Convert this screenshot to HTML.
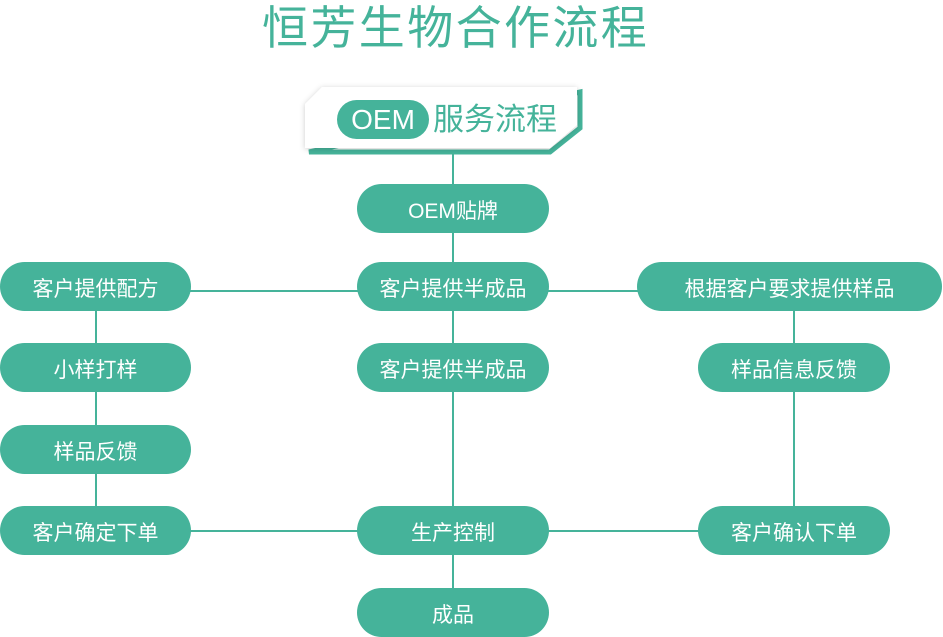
<!DOCTYPE html>
<html><head><meta charset="utf-8"><style>
body{margin:0;width:943px;height:637px;background:#fff;position:relative;overflow:hidden;font-family:"Liberation Sans","Noto Sans CJK SC",sans-serif}
.n{position:absolute;height:49px;border-radius:25px;background:#45b39a;color:#fff;font-size:21px;display:flex;align-items:center;justify-content:center;padding-top:2px;box-sizing:border-box}
.l{position:absolute;background:#45b39a}
</style></head><body>
<div style="position:absolute;left:262px;top:-8px;font-size:46px;letter-spacing:2.4px;color:#45b39a;white-space:nowrap">恒芳生物合作流程</div>
<div class="l" style="left:452px;top:150px;width:2px;height:440px"></div>
<div class="l" style="left:95px;top:300px;width:2px;height:210px"></div>
<div class="l" style="left:793px;top:300px;width:2px;height:210px"></div>
<div class="l" style="left:185px;top:290px;width:460px;height:2px"></div>
<div class="l" style="left:185px;top:530px;width:520px;height:2px"></div>
<svg style="position:absolute;left:0;top:0" width="943" height="637">
<defs><filter id="s" x="-10%" y="-30%" width="120%" height="160%"><feDropShadow dx="0" dy="1" stdDeviation="3" flood-color="#000" flood-opacity="0.2"/></filter></defs>
<polygon points="309,152 550,152 580,128 580,92" fill="none" stroke="#45b39a" stroke-width="5"/>
<polygon points="322,87 577,87 577,125 550,148 305,148 305,104" fill="#fff" filter="url(#s)"/>
<rect x="337" y="100" width="92" height="39" rx="19.5" fill="#45b39a"/>
<text x="383" y="129" font-size="28" fill="#fff" text-anchor="middle" font-family="Liberation Sans,sans-serif">OEM</text>
<text x="433" y="130" font-size="31" fill="#45b39a" font-family="Noto Sans CJK SC,sans-serif">服务流程</text>
</svg>
<div class="n" style="left:357px;top:184px;width:192px">OEM贴牌</div>
<div class="n" style="left:0;top:262px;width:191px">客户提供配方</div>
<div class="n" style="left:357px;top:262px;width:192px">客户提供半成品</div>
<div class="n" style="left:637px;top:262px;width:305px">根据客户要求提供样品</div>
<div class="n" style="left:0;top:343px;width:191px">小样打样</div>
<div class="n" style="left:357px;top:343px;width:192px">客户提供半成品</div>
<div class="n" style="left:698px;top:343px;width:192px">样品信息反馈</div>
<div class="n" style="left:0;top:425px;width:191px">样品反馈</div>
<div class="n" style="left:0;top:506px;width:191px">客户确定下单</div>
<div class="n" style="left:357px;top:506px;width:192px">生产控制</div>
<div class="n" style="left:698px;top:506px;width:192px">客户确认下单</div>
<div class="n" style="left:357px;top:588px;width:192px">成品</div>
</body></html>
